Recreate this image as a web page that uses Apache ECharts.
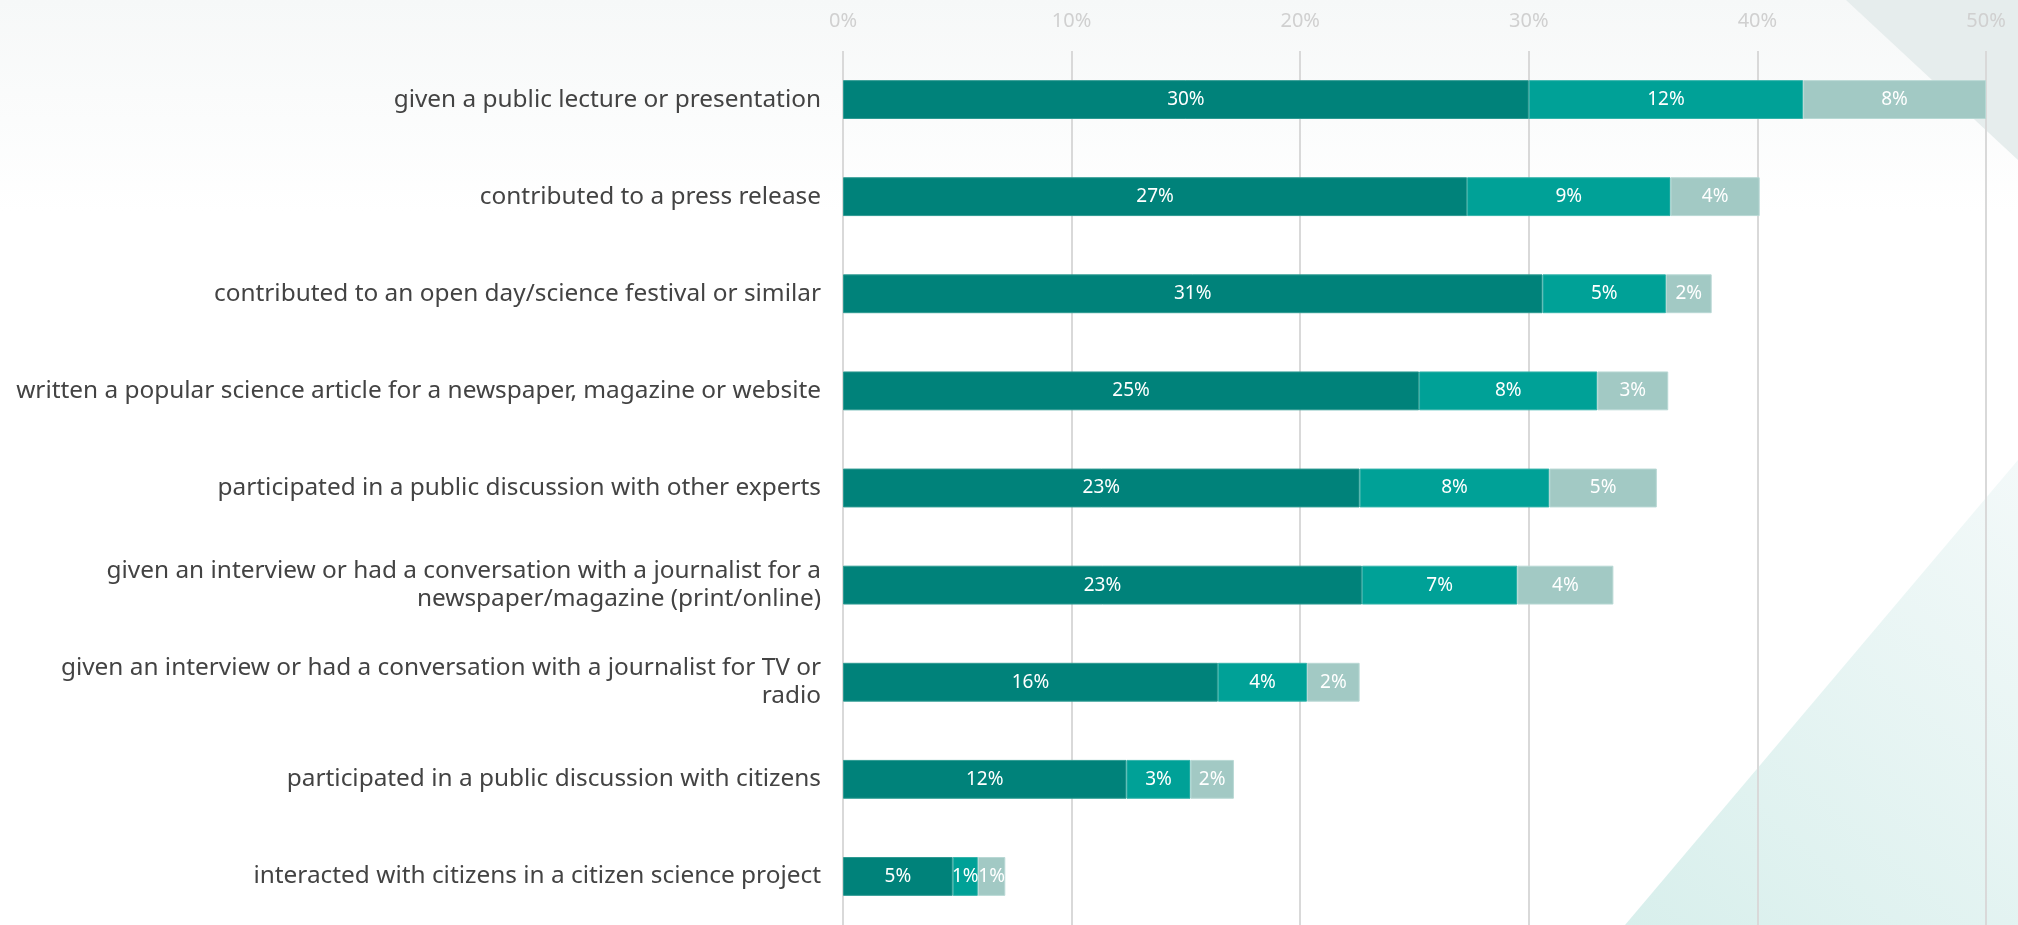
<!DOCTYPE html>
<html>
<head>
<meta charset="utf-8">
<title>Public engagement activities</title>
<script src="https://cdn.jsdelivr.net/npm/echarts@6/dist/echarts.min.js"></script>
<style>
  html, body { margin: 0; padding: 0; background: #ffffff; }
  #chart { width: 2018px; height: 925px; }
</style>
</head>
<body>
<div id="chart"></div>
<script>
// Activities, top to bottom
const activities = [
  'given a public lecture or presentation',
  'contributed to a press release',
  'contributed to an open day/science festival or similar',
  'written a popular science article for a newspaper, magazine or website',
  'participated in a public discussion with other experts',
  'given an interview or had a conversation with a journalist for a\nnewspaper/magazine (print/online)',
  'given an interview or had a conversation with a journalist for TV or\nradio',
  'participated in a public discussion with citizens',
  'interacted with citizens in a citizen science project'
];

// Share of respondents (%) per segment
const segmentA = [30.0, 27.3, 30.6, 25.2, 22.6, 22.7, 16.4, 12.4, 4.8];
const segmentB = [12.0, 8.9, 5.4, 7.8, 8.3, 6.8, 3.9, 2.8, 1.1];
const segmentC = [8.0, 3.9, 2.0, 3.1, 4.7, 4.2, 2.3, 1.9, 1.2];

// Value axis ticks
const axisMin = 0;
const axisMax = 50;
const axisStep = 10;

const FONT = '"Noto Sans", "Open Sans", sans-serif';

const chart = echarts.init(document.getElementById('chart'), null, { renderer: 'canvas' });

function segment(name, values, color, border) {
  return {
    name: name,
    type: 'bar',
    stack: 'total',
    barWidth: '40%',
    data: values,
    itemStyle: { color: color, borderColor: border, borderWidth: 1 },
    label: {
      show: true,
      position: 'inside',
      color: '#ffffff',
      fontFamily: FONT,
      fontSize: 19,
      formatter: p => Math.round(p.value) + '%'
    },
    emphasis: { disabled: true }
  };
}

chart.setOption({
  backgroundColor: {
    type: 'linear', x: 0, y: 0, x2: 0, y2: 1,
    colorStops: [
      { offset: 0, color: '#f6f8f8' },
      { offset: 0.23, color: '#ffffff' },
      { offset: 1, color: '#ffffff' }
    ]
  },
  animation: false,
  graphic: [
    {
      type: 'polygon',
      z: -10,
      silent: true,
      shape: { points: [[1846, 0], [2018, 0], [2018, 160]] },
      style: { fill: '#e6eded' }
    },
    {
      type: 'polygon',
      z: -10,
      silent: true,
      shape: { points: [[1625, 925], [2018, 925], [2018, 460]] },
      style: {
        fill: {
          type: 'linear', x: 0, y: 1, x2: 1, y2: 0,
          colorStops: [
            { offset: 0, color: '#d8efec' },
            { offset: 1, color: '#f3f9f9' }
          ]
        }
      }
    }
  ],
  grid: { left: 843, right: 32, top: 51, height: 876, containLabel: false },
  xAxis: {
    type: 'value',
    position: 'top',
    min: axisMin,
    max: axisMax,
    interval: axisStep,
    axisLine: { show: false },
    axisTick: { show: false },
    axisLabel: {
      margin: 20,
      color: '#d0d0d0',
      fontFamily: FONT,
      fontSize: 20,
      formatter: '{value}%'
    },
    splitLine: { show: true, lineStyle: { color: '#d9d9d9', width: 2 } }
  },
  yAxis: {
    type: 'category',
    inverse: true,
    data: activities,
    axisLine: { show: false },
    axisTick: { show: false },
    axisLabel: {
      margin: 22,
      color: '#434343',
      fontFamily: FONT,
      fontSize: 24.4,
      lineHeight: 28,
      align: 'right'
    }
  },
  series: [
    segment('A', segmentA, '#00827a', '#2e9a92'),
    segment('B', segmentB, '#00a197', '#33b3aa'),
    segment('C', segmentC, '#a2c9c4', '#b8d8d4')
  ]
});
</script>
</body>
</html>
